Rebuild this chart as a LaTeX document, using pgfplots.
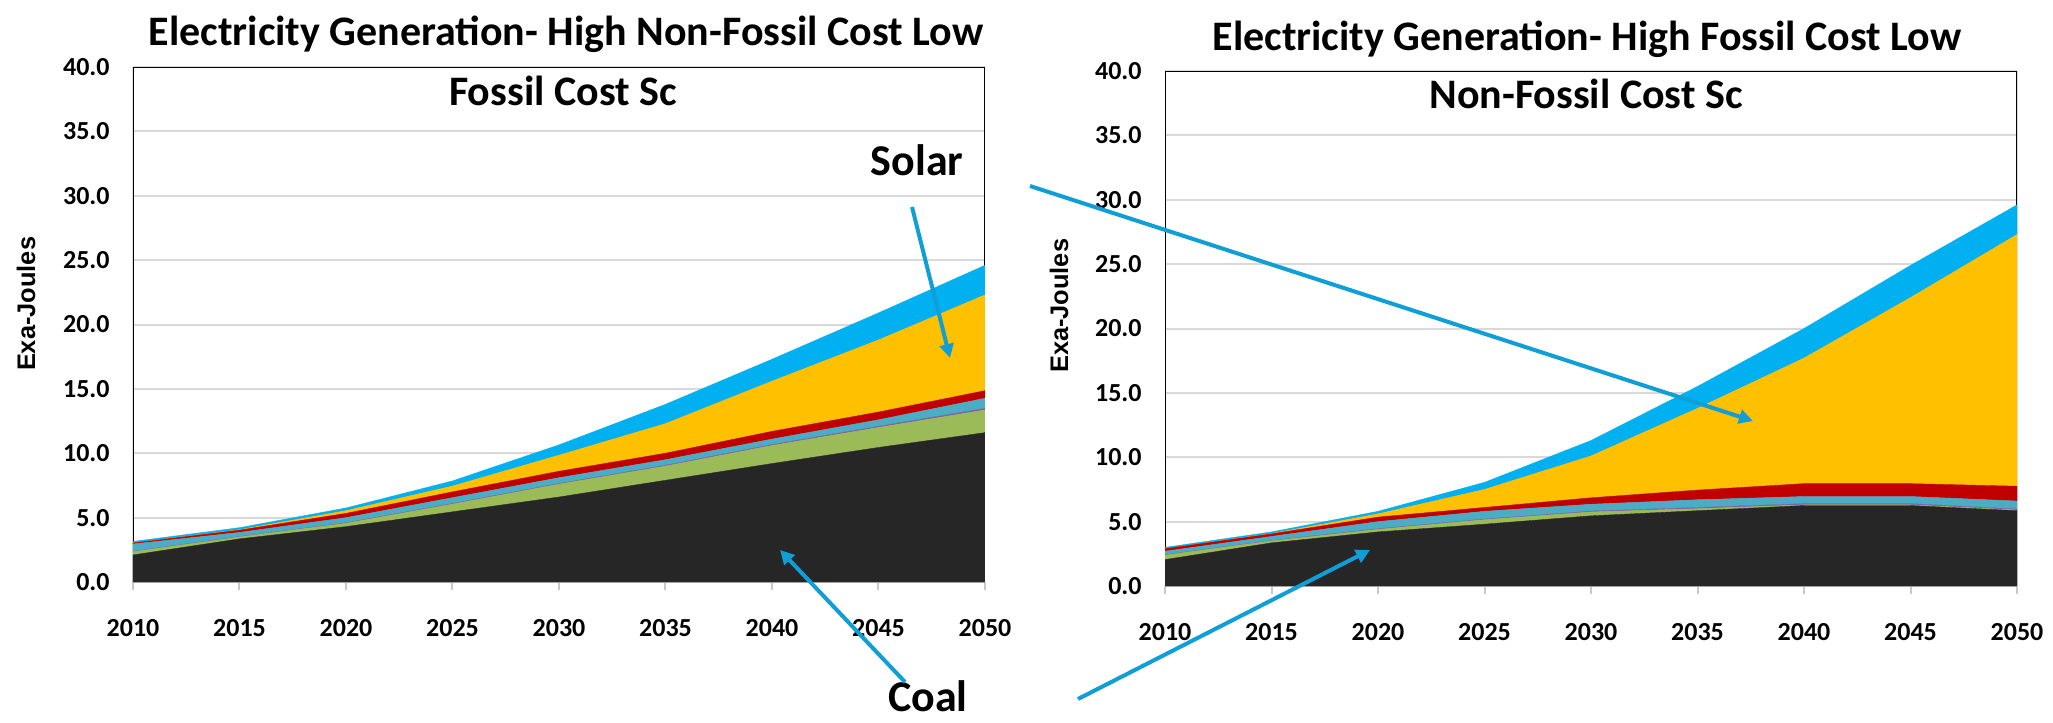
\documentclass[border=0pt]{standalone}
\usepackage{fontspec}
\setmainfont{Carlito}
\newfontfamily\arialb{Liberation Sans}
\usepackage{pgfplots}
\pgfplotsset{compat=1.18}
\usepackage{pgfplotstable}
\usetikzlibrary{arrows.meta}

\definecolor{coalc}{HTML}{262626}
\definecolor{greenc}{HTML}{9BBB59}
\definecolor{purplec}{HTML}{8064A2}
\definecolor{tealc}{HTML}{4BACC6}
\definecolor{redc}{HTML}{C00000}
\definecolor{yellowc}{HTML}{FFC000}
\definecolor{bluec}{HTML}{00B0F0}
\definecolor{gridc}{HTML}{D9D9D9}
\definecolor{tickc}{HTML}{C8C8C8}
\definecolor{arrowc}{RGB}{16,158,214}

% increments (stacked): coal, green, purple, teal, red, yellow (solar), blue
\pgfplotstableread{
year coal green purple teal red yellow blue
2010 2.10 0.25 0.03 0.57 0.08 0.00 0.12
2015 3.35 0.15 0.03 0.32 0.18 0.03 0.16
2020 4.30 0.26 0.04 0.40 0.33 0.21 0.21
2025 5.45 0.60 0.05 0.45 0.45 0.45 0.40
2030 6.60 1.00 0.05 0.45 0.50 1.25 0.80
2035 7.90 1.10 0.07 0.43 0.50 2.30 1.50
2040 9.20 1.40 0.08 0.42 0.60 3.90 1.70
2045 10.45 1.55 0.10 0.50 0.60 5.60 2.10
2050 11.60 1.76 0.13 0.78 0.59 7.44 2.30
}\leftdata

\pgfplotstableread{
year coal green purple teal red yellow blue
2010 2.05 0.35 0.03 0.27 0.20 0.00 0.10
2015 3.35 0.15 0.03 0.32 0.20 0.02 0.13
2020 4.20 0.20 0.05 0.55 0.35 0.25 0.20
2025 4.80 0.35 0.05 0.60 0.30 1.40 0.55
2030 5.45 0.30 0.07 0.53 0.50 3.25 1.20
2035 5.85 0.15 0.10 0.60 0.75 6.35 1.70
2040 6.25 0.05 0.10 0.55 1.00 9.75 2.30
2045 6.25 0.05 0.10 0.55 1.00 14.45 2.50
2050 5.85 0.05 0.08 0.62 1.15 19.55 2.30
}\rightdata

\pgfplotsset{
  eg/.style={
    scale only axis, width=426pt, height=257.5pt,
    xmin=2010, xmax=2050, ymin=0, ymax=40,
    stack plots=y,
    xtick={2010,2015,2020,2025,2030,2035,2040,2045,2050},
    xticklabels={2010,2015,2020,2025,2030,2035,2040,2045,2050},
    ytick={0,5,10,15,20,25,30,35,40},
    yticklabels={0.0,5.0,10.0,15.0,20.0,25.0,30.0,35.0,40.0},
    ymajorgrids, major grid style={draw=gridc, line width=1pt},
    axis line style={draw=none},
    tick align=outside, major tick length=4pt,
    xtick pos=left,
    xtick style={draw=tickc, line width=1pt},
    ytick style={draw=none},
    tick label style={font=\fontsize{13}{13}\selectfont\bfseries},
    yticklabel style={anchor=east, inner sep=0pt, xshift=-7.5pt},
    xticklabel style={anchor=base, inner sep=0pt, yshift=-23pt},
    ylabel={Exa-Joules},
    ylabel style={rotate=0, anchor=center, font=\arialb\fontsize{12.7}{12.7}\selectfont\bfseries},
  },
  lay/.style={fill=#1, draw=#1, line width=0.2pt, mark=none},
}

\newcommand{\layers}[1]{%
  \addplot[lay=coalc] table[x=year,y=coal]{#1} \closedcycle;
  \addplot[lay=greenc] table[x=year,y=green]{#1} \closedcycle;
  \addplot[lay=purplec] table[x=year,y=purple]{#1} \closedcycle;
  \addplot[lay=tealc] table[x=year,y=teal]{#1} \closedcycle;
  \addplot[lay=redc] table[x=year,y=red]{#1} \closedcycle;
  \addplot[lay=yellowc] table[x=year,y=yellow]{#1} \closedcycle;
  \addplot[lay=bluec] table[x=year,y=blue]{#1} \closedcycle;
  \draw[tickc, line width=1.2pt] (rel axis cs:0,0) -- (rel axis cs:1,0);
  \draw[black, line width=1pt] (rel axis cs:0,0) -- (rel axis cs:0,1) -- (rel axis cs:1,1) -- (rel axis cs:1,0);
}

\begin{document}
\begin{tikzpicture}
\begin{axis}[eg, at={(66.5pt,-291pt)}, anchor=south west,
  ylabel style={at={(axis description cs:-0.1256,0.54)}}]
\layers{\leftdata}
\end{axis}
\begin{axis}[eg, at={(582.5pt,-293pt)}, anchor=south west,
  ylabel style={at={(axis description cs:-0.1244,0.544)}}]
\layers{\rightdata}
\end{axis}

\tikzset{tit/.style={anchor=base, font=\fontsize{21}{21}\selectfont\bfseries, inner sep=0pt}}
\node[tit] at (283pt,-22.5pt) {Electricity Generation- High Non-Fossil Cost Low};
\node[tit] at (281.5pt,-52.5pt) {Fossil Cost Sc};
\node[tit] at (793.5pt,-25pt) {Electricity Generation- High Fossil Cost Low};
\node[tit] at (793pt,-54pt) {Non-Fossil Cost Sc};

\node[tit, font=\fontsize{22}{22}\selectfont\bfseries] at (458.5pt,-87.5pt) {Solar};
\node[tit, font=\fontsize{22}{22}\selectfont\bfseries] at (464pt,-355.5pt) {Coal};

\tikzset{arr/.style={draw=arrowc, line width=2pt, -{Triangle[length=7pt,width=7pt]}}}
\draw[arr] (456pt,-103.5pt) -- (475pt,-179pt);
\draw[arr] (515pt,-93pt) -- (876.5pt,-210.5pt);
\draw[arr] (452.5pt,-341pt) -- (390pt,-275pt);
\draw[arr] (539pt,-349.5pt) -- (685pt,-275pt);

\pgfresetboundingbox
\useasboundingbox (0pt,0pt) rectangle (1026.5pt,-361.5pt);
\end{tikzpicture}
\end{document}
